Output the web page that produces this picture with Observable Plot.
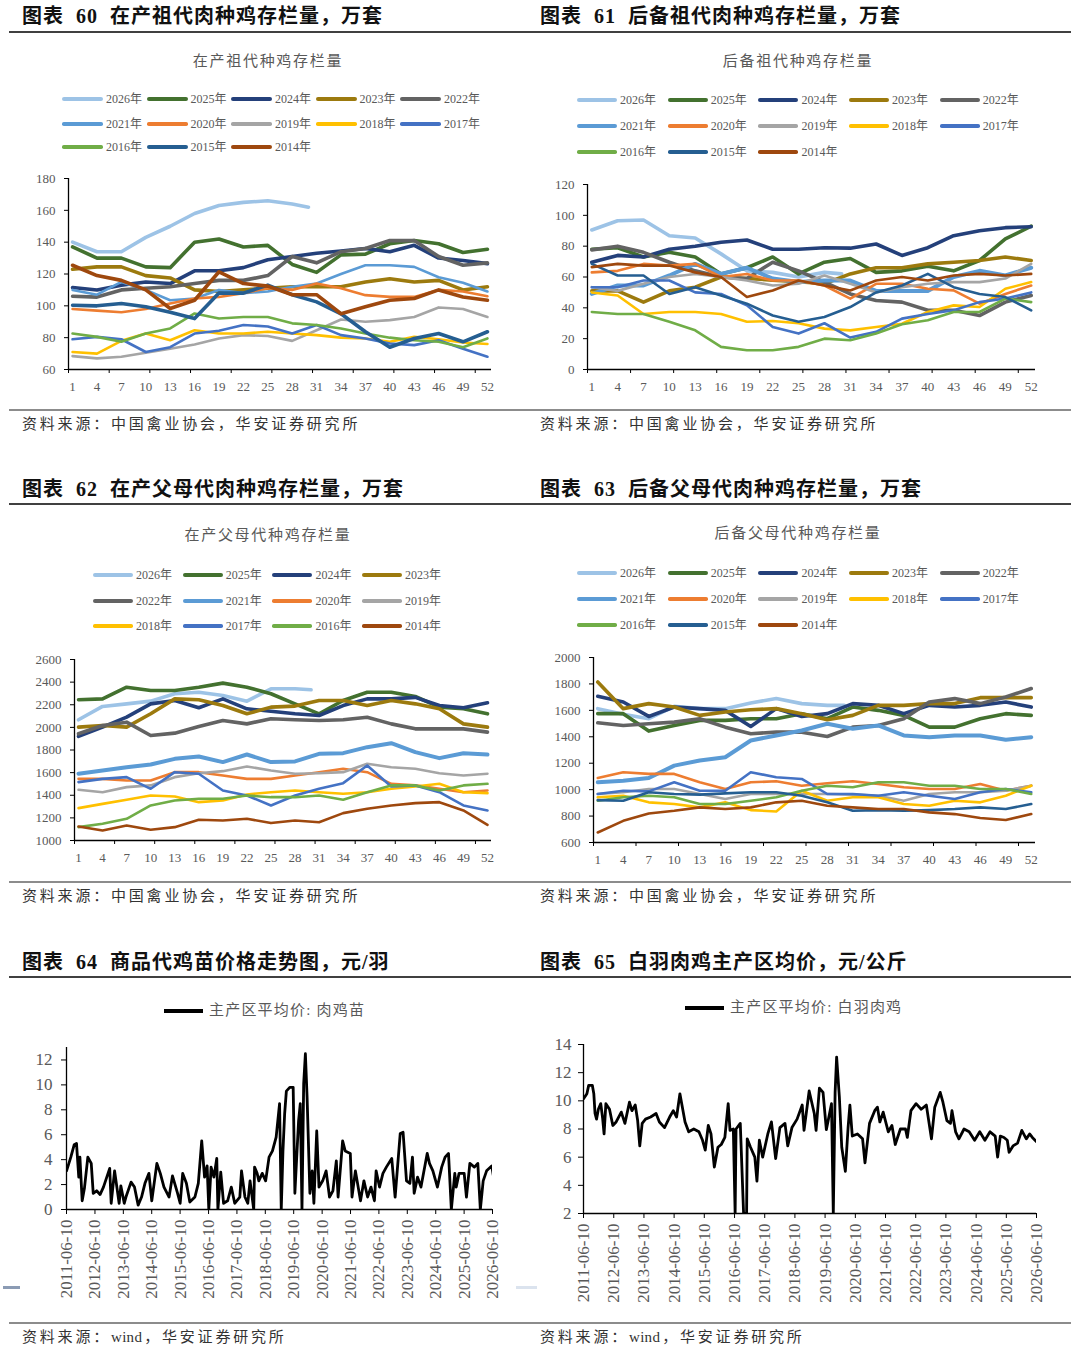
<!DOCTYPE html>
<html><head><meta charset="utf-8">
<script src="https://cdn.jsdelivr.net/npm/d3@7"></script>
<script src="https://cdn.jsdelivr.net/npm/@observablehq/plot@0.6"></script>
<style>
body{margin:0;background:#fff;}
#page{position:relative;width:1080px;height:1354px;overflow:hidden;background:#fff;font-family:"Noto Sans CJK SC",sans-serif;}
#page div{white-space:pre;line-height:1;}
</style></head>
<body><div id="page"></div>
<script>
// ---------------- DATA ----------------
const weeks = [1,4,7,10,13,16,19,22,25,28,31,34,37,40,43,46,49,52];
const weeks2026 = [1,4,7,10,13,16,19,22,25,28,30];

const gpYears = ["2026","2025","2024","2023","2022","2021","2020","2019","2018","2017","2016","2015","2014"];
const ppYears = ["2026","2025","2024","2023","2022","2021","2020","2019","2018","2017","2016","2014"];

// 在产祖代肉种鸡存栏量（万套）
const gpLaying = [
 [140,134,134,143,150,158,163,165,166,164,162],
 [137,130,130,124.5,124,140,142,137,138,126,121,132,132.5,139,141,139,133.5,135.5],
 [111.5,110,113,115,114,122,122,124,129,131,133,134.5,136,134,138,130,128.5,126.5],
 [123,124.5,124.5,119,117.5,110,109,110,111,112,112,112,115,117,115,116,110,112],
 [106,105.5,110,111,112,114,116,116,119,131,127,134,136,141,141,131,125.5,127],
 [110,107,115,110,103.5,104.6,110,108,109,112,114,120,125.5,125.5,124.5,118,114.5,109],
 [98,97,96,98,101.5,104.6,105.6,108,111,110,114,111,106.7,105.6,105.6,110,109,106],
 [68.4,67,68,70.5,73,75.7,79.5,81.6,81,78,84.7,91.4,90,91,93,99,98,93],
 [71,70,78,82.6,78.4,84.7,82.6,82.6,83.7,82.6,81.6,80,79.5,77.4,80.5,79,77,76],
 [79,80.5,79,71,74,82.6,84.3,88,87,82.6,88,81.6,79.5,76.3,75.3,78.4,73,68],
 [82.6,80.5,77.4,82.6,85.8,95.2,92,93,93,89,88,85.8,82.6,80,78.4,77.4,74,79.5],
 [100.4,100,101.5,99.4,96,92,108,108,113,107,102.5,95,83.7,74,79.5,82.6,77.4,83.7],
 [125.5,119,116,110,98.3,103.5,121.4,114,112.4,107,107,95,99.4,103.5,104.6,110,105.6,103.5]
];
// 后备祖代肉种鸡存栏量（万套）
const gpReserve = [
 [90.5,96.5,97,86.8,85.3,75,64,63,60,63,62],
 [78,79,73,76,73,62,66,73,62,69.6,72,63,64,67,64,70.7,84.7,93],
 [69.6,74,73,78,80,82.5,84,78,78,79,78.7,81.4,74,79,86.8,90,92,92.6],
 [51,51,43.7,51,53.4,60,59,58,57,55.6,62,66,66,68.5,69.6,70.7,73,70.7],
 [77.6,80,76,69.6,64,60,59,69.6,64,56.7,49,44.8,43.7,38.4,38.4,35,43.7,48],
 [49,54.5,54.5,61,68.5,62,66,59,56.7,57.7,57.7,51,51,51,60,64,61,66],
 [63,64,68.5,67.4,68.5,60,62,57.7,57.7,54.5,46,55.6,55.6,52.4,51.3,42.7,49,54.5],
 [53.4,51,55.6,60,62,60,57.7,54.5,55.6,61,55.6,50,53.4,55.6,56.7,56.7,59,68.5],
 [50,48,36,37.3,37.3,36,31,31.5,30,26.5,25.4,27.6,29.7,37.3,41.6,40.5,52.4,56.7],
 [53.4,53.4,57.7,57.7,50,49,41.6,27.6,23.3,30,20.7,24.4,33,36,38.4,43.7,46,50],
 [37.3,36,36,31,25.4,14.7,12.5,12.5,14.7,20,19,23.3,29.3,32,37.3,37.3,46,43.7],
 [68.5,61,61,49,53.4,48,42.7,35,31,34,40.5,50,54.5,62,53.4,49,47,38.4],
 [66.4,68.5,67.4,67.4,63,60,47,51.3,57.7,54.5,51.3,57.7,60,57.7,61,62,61,62]
];
// 在产父母代肉种鸡存栏量（万套）
const ppLaying = [
 [2067,2185,2208,2232,2297,2311,2282,2232,2341,2341,2332],
 [2244,2252,2355,2326,2326,2355,2391,2355,2297,2208,2120,2238,2311,2311,2273,2179,2164,2120],
 [1920,2002,2090,2208,2238,2173,2252,2164,2143,2120,2105,2193,2252,2252,2265,2193,2173,2217],
 [2002,2017,2002,2120,2252,2244,2193,2120,2179,2188,2238,2238,2193,2238,2208,2164,2031,2002],
 [1943,2017,2046,1928,1949,2008,2061,2031,2076,2067,2061,2067,2090,2031,1987,1987,1987,1958],
 [1590,1619,1648,1672,1722,1743,1693,1760,1693,1699,1766,1772,1825,1860,1781,1728,1772,1760],
 [1545,1545,1530,1531,1604,1604,1575,1545,1545,1575,1604,1634,1604,1501,1487,1457,1427,1442],
 [1448,1427,1472,1487,1560,1595,1613,1654,1619,1590,1595,1604,1678,1648,1634,1595,1575,1590],
 [1286,1324,1360,1398,1389,1339,1354,1407,1427,1442,1427,1413,1427,1457,1478,1501,1427,1419],
 [1516,1545,1560,1457,1604,1590,1442,1398,1310,1398,1457,1507,1663,1478,1487,1427,1310,1266],
 [1118,1148,1192,1310,1354,1369,1369,1398,1383,1383,1398,1360,1427,1487,1487,1442,1487,1501],
 [1124,1089,1133,1095,1118,1183,1177,1192,1154,1177,1162,1242,1280,1310,1330,1339,1266,1139]
];
// 后备父母代肉种鸡存栏量（万套）
const ppReserve = [
 [1613,1570,1537,1630,1613,1613,1656,1689,1651,1638,1638],
 [1575,1575,1443,1486,1524,1524,1537,1537,1575,1537,1625,1600,1562,1473,1473,1537,1575,1562],
 [1706,1663,1554,1625,1613,1600,1478,1613,1554,1575,1651,1638,1575,1638,1625,1638,1663,1625],
 [1815,1613,1651,1625,1562,1587,1605,1613,1575,1529,1562,1638,1638,1651,1651,1696,1696,1696],
 [1506,1486,1499,1511,1537,1473,1423,1435,1435,1402,1473,1486,1537,1663,1689,1651,1701,1765],
 [1056,1068,1088,1182,1220,1245,1372,1410,1448,1499,1461,1486,1410,1397,1410,1410,1377,1397],
 [1088,1132,1119,1119,1056,1005,1056,1063,1030,1048,1063,1043,1018,1005,1005,1043,992,1030],
 [967,980,1005,1005,967,929,967,967,967,967,962,954,916,967,980,980,992,1030],
 [942,954,904,891,866,904,845,835,992,916,942,942,891,878,916,904,954,1030],
 [967,992,987,1056,992,992,1132,1094,1081,967,967,954,980,954,929,980,1005,980],
 [916,942,954,942,891,891,916,942,992,1030,1018,1056,1056,1030,1030,1005,1005,967],
 [921,916,980,967,962,972,980,980,954,904,840,845,840,845,853,866,853,891],
 [676,764,820,840,866,853,866,904,916,878,866,853,853,828,815,785,770,815]
];

// 主产区平均价：肉鸡苗（元/羽） [decimal year, value]
const chickPrice = [
 [2011.44,3.1],[2011.59,4.2],[2011.71,5.2],[2011.79,5.3],[2011.87,2.6],[2011.91,4.2],[2011.99,0.7],[2012.07,1.7],[2012.19,4.2],[2012.31,3.7],
 [2012.38,1.3],[2012.50,1.5],[2012.62,1.2],[2012.74,1.8],[2012.96,3.3],[2013.01,0.5],[2013.13,3.1],[2013.29,0.5],[2013.35,1.9],[2013.47,0.5],
 [2013.53,1.0],[2013.71,2.2],[2013.83,1.8],[2013.96,0.35],[2014.08,1.0],[2014.20,2.1],[2014.34,2.9],[2014.44,0.7],[2014.62,3.7],[2014.74,2.9],
 [2014.87,1.8],[2015.05,1.0],[2015.17,2.7],[2015.35,1.3],[2015.44,0.5],[2015.53,2.9],[2015.66,2.1],[2015.78,0.6],[2015.96,1.0],[2016.08,2.1],
 [2016.20,5.5],[2016.30,2.6],[2016.39,3.5],[2016.45,0],[2016.53,3.4],[2016.63,2.6],[2016.73,4.1],[2016.77,0],[2016.87,3.0],[2016.97,0.5],
 [2017.11,0.7],[2017.24,1.8],[2017.36,0.5],[2017.54,1.0],[2017.60,3.1],[2017.72,1.0],[2017.82,0.5],[2017.90,2.3],[2018.03,0],[2018.06,3.4],
 [2018.15,2.9],[2018.21,2.3],[2018.33,2.9],[2018.45,2.3],[2018.57,4.2],[2018.69,4.7],[2018.82,5.8],[2018.94,8.5],[2019.00,0],[2019.06,4.7],
 [2019.12,7.7],[2019.18,9.5],[2019.30,9.8],[2019.42,9.8],[2019.48,1.3],[2019.61,7.1],[2019.67,8.5],[2019.73,0],[2019.79,10.1],[2019.85,12.5],
 [2019.91,9.0],[2020.01,1.3],[2020.09,3.1],[2020.15,0.5],[2020.25,6.3],[2020.33,1.8],[2020.46,2.3],[2020.58,3.1],[2020.70,1.0],[2020.82,1.5],
 [2020.94,3.9],[2021.00,1.0],[2021.16,5.5],[2021.25,4.7],[2021.43,4.5],[2021.49,1.0],[2021.61,3.1],[2021.79,0.7],[2021.91,2.3],[2022.04,1.0],
 [2022.16,1.8],[2022.28,0.7],[2022.34,3.1],[2022.46,1.8],[2022.58,2.9],[2022.70,3.4],[2022.89,4.1],[2023.01,1.0],[2023.19,6.1],[2023.29,6.2],
 [2023.41,2.3],[2023.53,2.1],[2023.62,4.2],[2023.68,1.3],[2023.80,2.6],[2023.92,1.8],[2024.14,4.5],[2024.22,3.7],[2024.34,3.1],[2024.50,1.8],
 [2024.65,3.4],[2024.77,4.2],[2024.89,4.5],[2024.99,0],[2025.11,2.9],[2025.16,1.8],[2025.26,2.9],[2025.44,2.9],[2025.52,1.0],[2025.64,3.7],
 [2025.80,3.4],[2025.92,3.7],[2026.01,0],[2026.11,2.3],[2026.23,3.1],[2026.41,3.5],[2026.50,2.3]
];
// 主产区平均价：白羽肉鸡（元/公斤） [decimal year, value]
const broilerPrice = [
 [2011.44,10.15],[2011.55,10.5],[2011.61,11.1],[2011.73,11.1],[2011.78,10.5],[2011.82,9.1],[2011.87,8.7],[2011.93,9.4],[2012.01,9.8],[2012.07,8.8],
 [2012.12,7.65],[2012.18,9.8],[2012.30,9.4],[2012.41,8.25],[2012.52,8.5],[2012.69,9.2],[2012.81,8.4],[2012.96,9.9],[2013.04,9.3],[2013.15,9.7],
 [2013.23,8.6],[2013.30,6.8],[2013.38,8.4],[2013.49,8.7],[2013.66,8.85],[2013.84,9.1],[2013.95,8.5],[2014.12,8.1],[2014.29,8.85],[2014.41,9.3],
 [2014.52,8.85],[2014.63,10.5],[2014.69,9.8],[2014.80,8.5],[2014.92,7.8],[2015.09,8.0],[2015.26,7.8],[2015.38,7.2],[2015.47,6.5],[2015.57,8.25],
 [2015.66,7.65],[2015.77,5.3],[2015.89,6.7],[2016.00,6.9],[2016.12,7.4],[2016.23,9.8],[2016.29,7.9],[2016.40,8.0],[2016.46,2],[2016.49,8.0],
 [2016.63,8.4],[2016.74,2],[2016.84,2],[2016.86,7.3],[2016.97,6.7],[2017.11,6.0],[2017.18,4.3],[2017.26,7.2],[2017.37,6.0],[2017.54,7.65],
 [2017.66,8.5],[2017.80,5.9],[2017.94,8.1],[2018.11,8.4],[2018.20,6.8],[2018.34,8.1],[2018.51,8.7],[2018.68,9.7],[2018.74,7.9],[2018.91,10.7],
 [2019.08,9.1],[2019.14,7.9],[2019.25,10.9],[2019.37,10.6],[2019.48,7.95],[2019.65,9.8],[2019.71,2],[2019.77,10.6],[2019.82,13.1],[2019.91,10.3],
 [2019.99,6.7],[2020.11,5.0],[2020.20,8.1],[2020.26,9.7],[2020.34,7.5],[2020.51,7.65],[2020.68,7.3],[2020.76,5.6],[2020.91,8.4],[2021.08,9.3],
 [2021.17,9.55],[2021.25,8.5],[2021.36,9.2],[2021.53,7.8],[2021.65,8.25],[2021.76,6.9],[2021.93,8.0],[2022.10,8.0],[2022.16,7.4],[2022.28,9.3],
 [2022.45,9.8],[2022.62,9.4],[2022.79,9.7],[2022.96,7.3],[2023.07,9.55],[2023.25,10.6],[2023.34,9.9],[2023.47,8.6],[2023.59,8.4],[2023.64,9.3],
 [2023.76,7.8],[2023.87,7.3],[2024.04,8.0],[2024.21,7.8],[2024.39,7.2],[2024.56,7.8],[2024.73,7.2],[2024.90,7.8],[2025.07,7.5],[2025.15,6.0],
 [2025.24,7.5],[2025.36,7.4],[2025.47,7.2],[2025.53,6.35],[2025.66,6.8],[2025.81,7.0],[2025.95,7.9],[2026.10,7.3],[2026.21,7.65],[2026.30,7.4],
 [2026.44,7.1]
];

// ---------------- STYLES ----------------
const colors = {"2026":"#9DC3E6","2025":"#43712F","2024":"#24407A","2023":"#9C7A0E","2022":"#636363","2021":"#5B9BD5",
  "2020":"#ED7D31","2019":"#A5A5A5","2018":"#FFC000","2017":"#4472C4","2016":"#70AD47","2015":"#255E91","2014":"#9E480E"};
const thick = 3.6, thin = 2.6;
const w60 = {"2026":thick,"2025":thick,"2024":thick,"2023":thick,"2022":thick,"2021":thin,"2020":thin,"2019":thin,"2018":thin,"2017":thin,"2016":thin,"2015":thick,"2014":thick};
const w61 = {"2026":thick,"2025":thick,"2024":thick,"2023":thick,"2022":thick,"2021":4,"2020":thin,"2019":thin,"2018":thin,"2017":thin,"2016":thin,"2015":thin,"2014":thin};

const page = document.getElementById("page");
function add(css, text){const e=document.createElement("div");e.style.cssText="position:absolute;"+css;if(text!=null)e.textContent=text;page.appendChild(e);return e;}
function hline(x1,x2,y,c,w){add(`left:${x1}px;top:${y-w/2}px;width:${x2-x1}px;height:${w}px;background:${c};`);}
const serifCJK = `"Liberation Serif","Noto Sans CJK SC"`;
function header(s,x,cy){add(`left:${x}px;top:${cy-11}px;font-size:20px;font-weight:700;letter-spacing:1px;color:#111;font-family:${serifCJK};`,s);}
function subtitle(s,cx,cy){add(`left:${cx}px;top:${cy-8.3}px;transform:translateX(-50%);font-size:15px;letter-spacing:1.7px;color:#595959;font-family:${serifCJK};`,s);}
function source(parts,x,cy){
  const d=add(`left:${x}px;top:${cy-8.3}px;font-size:15px;letter-spacing:2.8px;color:#333;font-family:${serifCJK};`);
  parts.forEach(p=>{const s=document.createElement("span");s.textContent=p;if(/^[a-z]+$/.test(p)){s.style.letterSpacing="0.3px";s.style.marginRight="2px";}d.appendChild(s);});
}

// headers & rules
header("图表  60  在产祖代肉种鸡存栏量，万套",22,17);
header("图表  61  后备祖代肉种鸡存栏量，万套",540,17);
header("图表  62  在产父母代肉种鸡存栏量，万套",22,490);
header("图表  63  后备父母代肉种鸡存栏量，万套",540,490);
header("图表  64  商品代鸡苗价格走势图，元/羽",22,963);
header("图表  65  白羽肉鸡主产区均价，元/公斤",540,963);
[32,504,977].forEach(y=>hline(9,1071,y,"#404040",1.3));
[410,882,1323].forEach(y=>hline(9,1071,y,"#8c8c8c",1.2));
source(["资料来源：中国禽业协会，华安证券研究所"],22,425);
source(["资料来源：中国禽业协会，华安证券研究所"],540,425);
source(["资料来源：中国禽业协会，华安证券研究所"],22,897);
source(["资料来源：中国禽业协会，华安证券研究所"],540,897);
source(["资料来源：","wind","，华安证券研究所"],22,1338);
source(["资料来源：","wind","，华安证券研究所"],540,1338);
subtitle("在产祖代种鸡存栏量",268,62);
subtitle("后备祖代种鸡存栏量",798,62);
subtitle("在产父母代种鸡存栏量",268,536);
subtitle("后备父母代种鸡存栏量",798,534);
// stray marks in the source page
add("left:3px;top:1285.5px;width:17px;height:3px;background:#8b9bb4;");
add("left:516px;top:1285.5px;width:21px;height:3px;background:#dbe3ee;");

function legend(cfg){
  cfg.rows.forEach((row,r)=>row.forEach((yr,i)=>{
    const x=cfg.x0+i*cfg.pitch, y=cfg.ys[r], w=cfg.widths[yr]+0.9;
    add(`left:${x}px;top:${y-w/2}px;width:${cfg.lineW}px;height:${w}px;background:${colors[yr]};border-radius:${w/2}px;`);
    add(`left:${x+cfg.lineW+3}px;top:${y-6.5}px;font-size:12px;color:#595959;font-family:${serifCJK};`,yr+"年");
  }));
}
legend({x0:62,pitch:84.5,lineW:41,ys:[99,124,147],widths:w60,rows:[["2026","2025","2024","2023","2022"],["2021","2020","2019","2018","2017"],["2016","2015","2014"]]});
legend({x0:577,pitch:90.7,lineW:40,ys:[100,126,152],widths:w61,rows:[["2026","2025","2024","2023","2022"],["2021","2020","2019","2018","2017"],["2016","2015","2014"]]});
legend({x0:93,pitch:89.7,lineW:40,ys:[575,601,626],widths:w61,rows:[["2026","2025","2024","2023"],["2022","2021","2020","2019"],["2018","2017","2016","2014"]]});
legend({x0:577,pitch:90.7,lineW:40,ys:[573,599,625],widths:w61,rows:[["2026","2025","2024","2023","2022"],["2021","2020","2019","2018","2017"],["2016","2015","2014"]]});

function place(svg,left,top){svg.style.position="absolute";svg.style.left=left+"px";svg.style.top=top+"px";page.appendChild(svg);}
const intFmt = d3.format("d");

function seasonal(cfg){
  const marks=[];
  cfg.years.forEach((yr,k)=>{
    const vals=cfg.values[k], ws= yr==="2026"?weeks2026:weeks;
    const pts=ws.map((w,i)=>({w,v:vals[i]}));
    marks.push(Plot.line(pts,{x:"w",y:"v",stroke:colors[yr],strokeWidth:cfg.widths[yr],strokeLinejoin:"round",strokeLinecap:"round"}));
  });
  marks.push(Plot.ruleY([cfg.y[0]],{stroke:"#000",strokeWidth:1.3}));
  marks.push(Plot.ruleX([0.5],{stroke:"#000",strokeWidth:1.3}));
  marks.push(Plot.axisY({ticks:cfg.yTicks,tickFormat:intFmt,tickSize:4,tickPadding:9,stroke:"#000",fill:"#595959",fontSize:13,label:null}));
  marks.push(Plot.axisX({ticks:weeks,tickFormat:intFmt,tickSize:0,tickPadding:12,fill:"#595959",fontSize:13,label:null}));
  marks.push(Plot.axisX({ticks:d3.range(0.5,53,5),tickSize:4,tickFormat:()=>"",stroke:"#000",label:null}));
  const svg=Plot.plot({width:540,height:cfg.h,marginLeft:cfg.ml,marginRight:cfg.mr,marginTop:cfg.mt,marginBottom:cfg.mb,
    x:{domain:[0.5,52.5],label:null},y:{domain:cfg.y,label:null},
    style:{fontFamily:"Liberation Serif",fontSize:"13px",background:"transparent",overflow:"visible"},marks});
  place(svg,cfg.left,cfg.top);
}
seasonal({left:0,top:165,h:240,ml:68,mr:49,mt:13,mb:36,y:[60,180],yTicks:d3.range(60,181,20),years:gpYears,values:gpLaying,widths:w60});
seasonal({left:540,top:165,h:240,ml:47,mr:45,mt:19,mb:36,y:[0,120],yTicks:d3.range(0,121,20),years:gpYears,values:gpReserve,widths:w61});
seasonal({left:0,top:645,h:230,ml:74,mr:49,mt:14,mb:35,y:[1000,2600],yTicks:d3.range(1000,2601,200),years:ppYears,values:ppLaying,widths:w61});
seasonal({left:540,top:645,h:230,ml:53,mr:45,mt:12,mb:33,y:[600,2000],yTicks:d3.range(600,2001,200),years:gpYears,values:ppReserve,widths:w61});

const toDate=t=>{const y=Math.floor(t);return new Date(Date.UTC(y,0,1)+(t-y)*365.25*864e5);};
const yearTicks=d3.range(2011,2027).map(y=>new Date(Date.UTC(y,5,10)));
function priceChart(cfg){
  const pts=cfg.data.map(([t,v])=>({d:toDate(t),v}));
  const svg=Plot.plot({width:540,height:cfg.h,marginLeft:cfg.ml,marginRight:cfg.mr,marginTop:cfg.mt,marginBottom:cfg.mb,
    x:{type:"utc",domain:[yearTicks[0],yearTicks[yearTicks.length-1]],label:null},y:{domain:cfg.y,label:null},
    style:{fontFamily:"Liberation Serif",fontSize:"17px",background:"transparent",overflow:"visible"},
    marks:[
      Plot.line(pts,{x:"d",y:"v",stroke:"#000",strokeWidth:2.8,strokeLinejoin:"round",clip:true}),
      Plot.ruleY([cfg.y[0]],{stroke:"#000",strokeWidth:1.3}),
      Plot.ruleX([yearTicks[0]],{stroke:"#000",strokeWidth:1.3}),
      Plot.axisY({ticks:cfg.yTicks,tickFormat:intFmt,tickSize:5,tickPadding:cfg.yPad,stroke:"#000",fill:"#595959",fontSize:17,label:null}),
      Plot.axisX({ticks:yearTicks,tickSize:5,tickPadding:5,tickRotate:-90,tickFormat:d3.utcFormat("%Y-%m-%d"),stroke:"#000",fill:"#595959",fontSize:17,label:null})
    ]});
  place(svg,cfg.left,cfg.top);
  // legend above the plot
  add(`left:${cfg.lx}px;top:${cfg.ly-2}px;width:39px;height:4px;background:#000;`);
  add(`left:${cfg.lx+45}px;top:${cfg.ly-8.3}px;font-size:15px;letter-spacing:1.2px;color:#595959;font-family:${serifCJK};`,cfg.name);
}
priceChart({left:0,top:1035,h:280,ml:66,mr:48,mt:12,mb:106,y:[0,13],yTicks:d3.range(0,13,2),yPad:9,data:chickPrice,lx:164,ly:1011,name:"主产区平均价: 肉鸡苗"});
priceChart({left:540,top:1035,h:280,ml:43,mr:44,mt:9,mb:102,y:[2,14],yTicks:d3.range(2,15,2),yPad:7,data:broilerPrice,lx:685,ly:1008,name:"主产区平均价: 白羽肉鸡"});
</script></body></html>
